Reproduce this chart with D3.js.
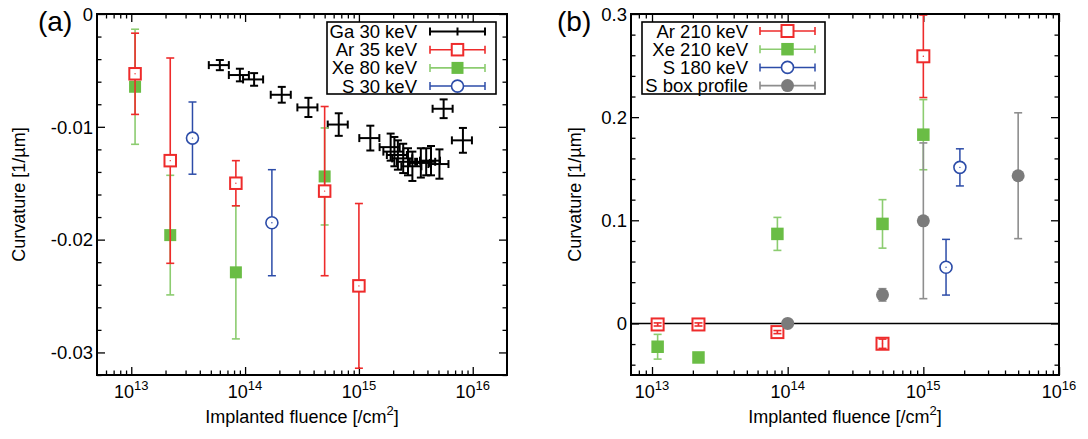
<!DOCTYPE html>
<html><head><meta charset="utf-8">
<script src="https://cdn.jsdelivr.net/npm/d3@7"></script>
<style>
body{margin:0;background:#fff}
svg{display:block}
text{font-family:"Liberation Sans",Arial,Helvetica,sans-serif;fill:#000}
</style>
</head><body>
<svg id="chart" width="1088" height="439"></svg>
<script>
// ---------------- DATA ----------------
// Panel (a)
const gaFluence = [6.0e13, 9.0e13, 1.2e14, 2.1e14, 3.6e14, 6.65e14, 1.26e15, 1.9e15, 2.05e15, 2.2e15, 2.45e15, 2.7e15, 2.95e15, 3.5e15, 3.9e15, 4.3e15, 5.1e15, 5.55e15, 8.2e15];
const gaCurv    = [-0.00453, -0.00541, -0.0058, -0.00716, -0.00828, -0.0098, -0.0110, -0.0118, -0.0122, -0.0125, -0.0128, -0.0131, -0.0135, -0.0132, -0.0131, -0.0130, -0.0133, -0.0084, -0.0112];
const gaCurvErr = [0.00045, 0.00056, 0.00056, 0.0007, 0.00085, 0.001, 0.0011, 0.0012, 0.0013, 0.0013, 0.0013, 0.0012, 0.0013, 0.0013, 0.0012, 0.0013, 0.0013, 0.00083, 0.0011];
const gaFluenceRelErr = [0.2, 0.2, 0.2, 0.2, 0.2, 0.2, 0.2, 0.2, 0.2, 0.2, 0.2, 0.2, 0.2, 0.2, 0.2, 0.2, 0.2, 0.2, 0.2];

const ar35Fluence = [1.08e13, 2.2e13, 8.3e13, 5.0e14, 1.0e15];
const ar35Curv    = [-0.0053, -0.0130, -0.0150, -0.0157, -0.0241];
const ar35Err     = [0.0036, 0.0091, 0.0020, 0.0075, 0.0073];

const xe80Fluence = [1.08e13, 2.2e13, 8.3e13, 5.0e14];
const xe80Curv    = [-0.00645, -0.0196, -0.0229, -0.0144];
const xe80Err     = [0.0051, 0.0053, 0.0059, 0.0043];

const s30Fluence = [3.45e13, 1.72e14];
const s30Curv    = [-0.0110, -0.0185];
const s30Err     = [0.0032, 0.0047];

// Panel (b)
const ar210Fluence = [1.1e13, 2.2e13, 8.4e13, 5.0e14, 1.0e15];
const ar210Curv    = [-0.001, -0.001, -0.0084, -0.0197, 0.259];
const ar210Err     = [0.0015, 0.0015, 0.0015, 0.0045, 0.040];

const xe210Fluence = [1.1e13, 2.2e13, 8.4e13, 5.0e14, 1.0e15];
const xe210Curv    = [-0.0226, -0.0330, 0.0868, 0.0965, 0.183];
const xe210Err     = [0.012, 0.002, 0.016, 0.0235, 0.034];

const s180Fluence = [1.47e15, 1.86e15];
const s180Curv    = [0.0545, 0.1513];
const s180Err     = [0.027, 0.018];

const sBoxFluence = [1.0e14, 5.0e14, 1.0e15, 5.0e15];
const sBoxCurv    = [0, 0.0277, 0.0995, 0.1432];
const sBoxErr     = [0, 0.006, 0.0755, 0.061];

// Ticks / labels
const xMajorExponents = [13, 14, 15, 16];
const yMajorA = [0, -0.01, -0.02, -0.03];
const yMajorB = [0, 0.1, 0.2, 0.3];
const legendLabelsA = ["Ga 30 keV", "Ar 35 keV", "Xe 80 keV", "S 30 keV"];
const legendLabelsB = ["Ar 210 keV", "Xe 210 keV", "S 180 keV", "S box profile"];
const panelLabels = ["(a)", "(b)"];
const xTitle = "Implanted fluence [/cm";
const yTitle = "Curvature [1/\u00b5m]";

// ---------------- STYLE ----------------
const RED = "#ee2b2b", GREEN = "#6abd45", GREEN_BAR = "#8ccc70", BLUE = "#2c4ca8", GRAY = "#7b7b7b", GRAY_BAR = "#8e8e8e";
const svg = d3.select("#chart");

function minorTicks(dom, step, majors) {
  const out = [];
  const n0 = Math.ceil(dom[0] / step - 1e-9), n1 = Math.floor(dom[1] / step + 1e-9);
  for (let i = n0; i <= n1; i++) {
    const v = +(i * step).toFixed(6);
    if (!majors.some(m => Math.abs(m - v) < 1e-9)) out.push(v);
  }
  return out;
}
function logMinors(dom) {
  const out = [];
  for (let e = 12; e <= 16; e++) for (let k = 2; k <= 9; k++) {
    const v = k * Math.pow(10, e);
    if (v > dom[0] * 1.001 && v < dom[1] * 0.999) out.push(v);
  }
  return out;
}

function drawPanel(cfg) {
  const g = svg.append("g");
  const x = d3.scaleLog().domain(cfg.xDom).range([cfg.left, cfg.right]);
  const y = d3.scaleLinear().domain(cfg.yDom).range([cfg.bottom, cfg.top]);
  const xMaj = xMajorExponents.map(e => Math.pow(10, e)).filter(v => v >= cfg.xDom[0] && v <= cfg.xDom[1] * 1.0001);
  const xMin = logMinors(cfg.xDom);
  const yMin = minorTicks(cfg.yDom, cfg.yMinorStep, cfg.yMajor);

  const axG = g.append("g").attr("class", "axes");
  function addAxis(axis, tr) {
    const a = axG.append("g").attr("transform", tr).call(axis);
    a.select(".domain").remove();
    a.selectAll("line").attr("stroke", "#000").attr("stroke-width", 1.3);
    return a;
  }
  addAxis(d3.axisBottom(x).tickValues(xMaj).tickSize(-8).tickFormat(""), `translate(0,${cfg.bottom})`);
  addAxis(d3.axisBottom(x).tickValues(xMin).tickSize(-4.5).tickFormat(""), `translate(0,${cfg.bottom})`);
  addAxis(d3.axisTop(x).tickValues(xMaj).tickSize(-8).tickFormat(""), `translate(0,${cfg.top})`);
  addAxis(d3.axisTop(x).tickValues(xMin).tickSize(-4.5).tickFormat(""), `translate(0,${cfg.top})`);
  const yl = addAxis(d3.axisLeft(y).tickValues(cfg.yMajor).tickSize(-8).tickPadding(4)
      .tickFormat(d => d === 0 ? "0" : (cfg.yDecimals === 1 ? d.toFixed(1) : d.toFixed(2))), `translate(${cfg.left},0)`);
  yl.selectAll("text").attr("font-size", 18.5).attr("font-family", '"Liberation Sans",Arial,sans-serif').attr("fill", "#000").attr("dy", "0.34em");
  addAxis(d3.axisLeft(y).tickValues(yMin).tickSize(-4.5).tickFormat(""), `translate(${cfg.left},0)`);
  addAxis(d3.axisRight(y).tickValues(cfg.yMajor).tickSize(-8).tickFormat(""), `translate(${cfg.right},0)`);
  addAxis(d3.axisRight(y).tickValues(yMin).tickSize(-4.5).tickFormat(""), `translate(${cfg.right},0)`);

  // x tick labels 10^n
  xMaj.forEach(v => {
    const t = g.append("text").attr("x", x(v)).attr("y", cfg.bottom + 23).attr("text-anchor", "middle").attr("font-size", 18);
    t.append("tspan").text("10");
    t.append("tspan").attr("dy", -8).attr("font-size", 13).text(Math.round(Math.log10(v)));
  });

  if (cfg.zeroLine) {
    g.append("line").attr("x1", cfg.left).attr("x2", cfg.right).attr("y1", y(0)).attr("y2", y(0))
      .attr("stroke", "#000").attr("stroke-width", 1.5);
  }

  const plot = g.append("g");
  cfg.series.forEach(s => {
    const sg = plot.append("g");
    s.xs.forEach((xv, i) => {
      const cx = x(xv), cy = y(s.ys[i]);
      const e = s.err[i];
      const cap = 4;
      const open = s.marker === "openSquare" || s.marker === "openCircle";
      const half = s.size / 2;
      if (!open) {
        drawVBar(sg, s, cx, cy, e, y, cap, i);
        drawXBar(sg, s, xv, cy, x, cap, i);
        drawMarker(sg, s, cx, cy);
      } else {
        drawMarker(sg, s, cx, cy);
        if (e > 0) {
          const y1 = y(s.ys[i] + e), y2 = y(s.ys[i] - e);
          const line = (a, b) => sg.append("line").attr("x1", cx).attr("x2", cx).attr("y1", a).attr("y2", b).attr("stroke", s.bar).attr("stroke-width", s.bw);
          if (cy - y1 > half) { line(y1, cy - half); line(cy + half, y2); }
          else line(y1, y2);
          [y1, y2].forEach(yy => sg.append("line").attr("x1", cx - cap).attr("x2", cx + cap).attr("y1", yy).attr("y2", yy).attr("stroke", s.bar).attr("stroke-width", s.bw));
        }
        sg.append("circle").attr("cx", cx).attr("cy", cy).attr("r", 0.7).attr("fill", s.color);
      }
    });
  });

  g.append("rect").attr("x", cfg.left).attr("y", cfg.top).attr("width", cfg.right - cfg.left).attr("height", cfg.bottom - cfg.top)
    .attr("fill", "none").attr("stroke", "#000").attr("stroke-width", 2);

  // legend
  const L = cfg.legend;
  g.append("rect").attr("x", L.x0).attr("y", L.y0).attr("width", L.x1 - L.x0).attr("height", L.y1 - L.y0)
    .attr("fill", "#fff").attr("stroke", "#000").attr("stroke-width", 1.6);
  cfg.series.slice().sort((a, b) => a.order - b.order).forEach((s, i) => {
    const cy = L.rowY0 + i * L.rowH;
    g.append("text").attr("x", L.textX).attr("y", cy + 6.5).attr("text-anchor", "end").attr("font-size", 18.5).text(s.label);
    g.append("line").attr("x1", L.lx0).attr("x2", L.lx1).attr("y1", cy).attr("y2", cy).attr("stroke", s.bar).attr("stroke-width", s.bw);
    [L.lx0, L.lx1].forEach(xx => g.append("line").attr("x1", xx).attr("x2", xx).attr("y1", cy - 4).attr("y2", cy + 4).attr("stroke", s.bar).attr("stroke-width", s.bw));
    if (s.marker === "none") {
      const mx = (L.lx0 + L.lx1) / 2;
      g.append("line").attr("x1", mx).attr("x2", mx).attr("y1", cy - 4).attr("y2", cy + 4).attr("stroke", s.bar).attr("stroke-width", s.bw);
    } else drawMarker(g, s, (L.lx0 + L.lx1) / 2, cy);
  });

  const tx = g.append("text").attr("x", (cfg.left + cfg.right) / 2).attr("y", 423).attr("text-anchor", "middle").attr("font-size", 18);
  tx.append("tspan").text(xTitle);
  tx.append("tspan").attr("dy", -8).attr("font-size", 13).text("2");
  tx.append("tspan").attr("dy", 8).text("]");
  g.append("text").attr("transform", `translate(${cfg.yTitleX},${(cfg.top + cfg.bottom) / 2}) rotate(-90)`)
    .attr("text-anchor", "middle").attr("font-size", 18).text(yTitle);
  g.append("text").attr("x", cfg.panelX).attr("y", 31).attr("font-size", 28).text(cfg.panelLabel);
}

function drawVBar(sg, s, cx, cy, e, y, cap, i) {
  if (!(e > 0)) return;
  const y1 = y(s.ys[i] + e), y2 = y(s.ys[i] - e);
  sg.append("line").attr("x1", cx).attr("x2", cx).attr("y1", y1).attr("y2", y2).attr("stroke", s.bar).attr("stroke-width", s.bw);
  [y1, y2].forEach(yy => sg.append("line").attr("x1", cx - cap).attr("x2", cx + cap).attr("y1", yy).attr("y2", yy).attr("stroke", s.bar).attr("stroke-width", s.bw));
}
function drawXBar(sg, s, xv, cy, x, cap, i) {
  if (!s.xerr) return;
  const xa = x(xv * (1 - s.xerr[i])), xb = x(xv * (1 + s.xerr[i]));
  sg.append("line").attr("x1", xa).attr("x2", xb).attr("y1", cy).attr("y2", cy).attr("stroke", s.bar).attr("stroke-width", s.bw);
  [xa, xb].forEach(xx => sg.append("line").attr("x1", xx).attr("x2", xx).attr("y1", cy - cap).attr("y2", cy + cap).attr("stroke", s.bar).attr("stroke-width", s.bw));
}

function drawMarker(sg, s, cx, cy) {
  const sz = s.size;
  if (s.marker === "openSquare") {
    sg.append("rect").attr("x", cx - sz / 2).attr("y", cy - sz / 2).attr("width", sz).attr("height", sz)
      .attr("fill", "#fff").attr("stroke", s.color).attr("stroke-width", 2);
  } else if (s.marker === "square") {
    sg.append("rect").attr("x", cx - sz / 2).attr("y", cy - sz / 2).attr("width", sz).attr("height", sz)
      .attr("fill", s.color).attr("stroke", "none");
  } else if (s.marker === "openCircle") {
    sg.append("circle").attr("cx", cx).attr("cy", cy).attr("r", sz / 2).attr("fill", "#fff").attr("stroke", s.color).attr("stroke-width", 1.6);
  } else if (s.marker === "circle") {
    sg.append("circle").attr("cx", cx).attr("cy", cy).attr("r", sz / 2).attr("fill", s.color);
  }
}

drawPanel({
  left: 97, right: 507, top: 14, bottom: 375,
  xDom: [5e12, 2e16], yDom: [-0.032, 0], yMajor: yMajorA, yMinorStep: 0.002, yDecimals: 2,
  yTitleX: 25, panelX: 38, panelLabel: panelLabels[0], zeroLine: false,
  legend: {x0: 327, x1: 496, y0: 22, y1: 94, rowY0: 31.5, rowH: 18.2, textX: 417, lx0: 430, lx1: 485},
  series: [
    {label: legendLabelsA[0], order: 0, xs: gaFluence, ys: gaCurv, err: gaCurvErr, xerr: gaFluenceRelErr, marker: "none", color: "#000", bar: "#000", bw: 2, size: 0},
    {label: legendLabelsA[2], order: 2, xs: xe80Fluence, ys: xe80Curv, err: xe80Err, marker: "square", color: GREEN, bar: GREEN_BAR, bw: 1.6, size: 12},
    {label: legendLabelsA[1], order: 1, xs: ar35Fluence, ys: ar35Curv, err: ar35Err, marker: "openSquare", color: RED, bar: RED, bw: 1.6, size: 11.5},
    {label: legendLabelsA[3], order: 3, xs: s30Fluence, ys: s30Curv, err: s30Err, marker: "openCircle", color: BLUE, bar: BLUE, bw: 1.5, size: 12}
  ]
});

drawPanel({
  left: 631, right: 1059, top: 14, bottom: 375,
  xDom: [7e12, 1e16], yDom: [-0.05, 0.3], yMajor: yMajorB, yMinorStep: 0.02, yDecimals: 1,
  yTitleX: 581, panelX: 557, panelLabel: panelLabels[1], zeroLine: true,
  legend: {x0: 642, x1: 825, y0: 22, y1: 94, rowY0: 31, rowH: 18.2, textX: 748, lx0: 760, lx1: 815},
  series: [
    {label: legendLabelsB[0], order: 0, xs: ar210Fluence, ys: ar210Curv, err: ar210Err, marker: "openSquare", color: RED, bar: RED, bw: 1.6, size: 12},
    {label: legendLabelsB[1], order: 1, xs: xe210Fluence, ys: xe210Curv, err: xe210Err, marker: "square", color: GREEN, bar: GREEN_BAR, bw: 1.6, size: 12.5},
    {label: legendLabelsB[2], order: 2, xs: s180Fluence, ys: s180Curv, err: s180Err, marker: "openCircle", color: BLUE, bar: BLUE, bw: 1.5, size: 12},
    {label: legendLabelsB[3], order: 3, xs: sBoxFluence, ys: sBoxCurv, err: sBoxErr, marker: "circle", color: GRAY, bar: GRAY_BAR, bw: 1.6, size: 13}
  ]
});
</script>
</body></html>
